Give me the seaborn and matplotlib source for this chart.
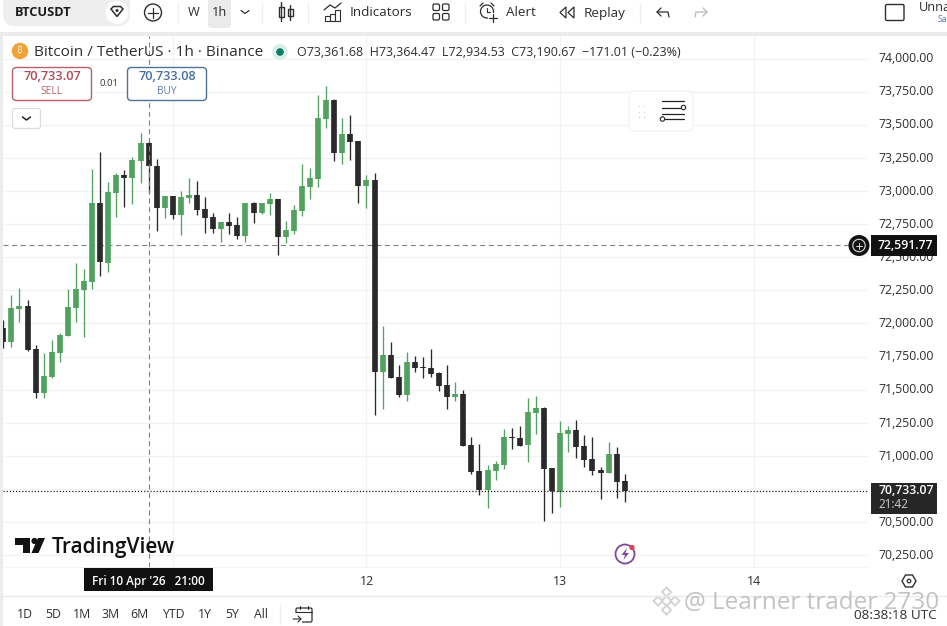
import matplotlib
matplotlib.use("Agg")
import matplotlib.pyplot as plt
from matplotlib.patches import FancyBboxPatch, Circle, Rectangle, Polygon
from matplotlib.transforms import ScaledTranslation
import pandas as pd
import seaborn as sns

# hours counted from 11 Apr 00:00
hours = list(range(-21, 57))
opens = [71963, 71863, 72112, 72132, 71805, 71478, 71598, 71780, 71908, 72119, 72255, 72316, 72907,
         72459, 72987, 73121, 73100, 73229, 73360, 73186, 72874, 72962, 72821, 72950, 72970, 72864,
         72804, 72716, 72766, 72743, 72660, 72909, 72831, 72902, 72940, 72653, 72698, 72849, 73033,
         73093, 73543, 73687, 73289, 73430, 73377, 73040, 73083, 71636, 71762, 71596, 71460, 71709,
         71671, 71664, 71629, 71533, 71445, 71468, 71080, 70884, 70743, 70889, 70932, 71143, 71136,
         71080, 71324, 71362, 70907, 70730, 71166, 71196, 71075, 70977, 70894, 70874, 71015, 70808]
closes = [71863, 72114, 72132, 71800, 71478, 71603, 71785, 71913, 72124, 72263, 72320, 72907, 72461,
          72992, 73121, 73100, 73234, 73360, 73186, 72874, 72962, 72819, 72952, 72970, 72859, 72799,
          72713, 72768, 72736, 72660, 72907, 72834, 72909, 72940, 72655, 72706, 72857, 73038, 73098,
          73551, 73687, 73289, 73430, 73370, 73040, 73083, 71636, 71762, 71591, 71460, 71709, 71664,
          71666, 71621, 71531, 71448, 71468, 71078, 70879, 70743, 70894, 70937, 71143, 71138, 71078,
          71332, 71362, 70904, 70736, 71173, 71196, 71070, 70970, 70889, 70874, 71015, 70806, 70733]
highs = [72026, 72215, 72265, 72177, 71837, 71775, 71875, 71925, 72263, 72459, 72414, 73166, 73292,
         73070, 73138, 73158, 73259, 73440, 73375, 73241, 72965, 72962, 73000, 73100, 73075, 72957,
         72836, 72768, 72836, 72804, 72907, 72914, 72912, 72987, 72940, 72776, 72894, 73204, 73174,
         73724, 73795, 73692, 73553, 73574, 73377, 73118, 73133, 71983, 71858, 71687, 71782, 71755,
         71749, 71807, 71634, 71687, 71558, 71498, 71143, 71090, 70932, 70964, 71204, 71211, 71226,
         71437, 71453, 71367, 70907, 71264, 71226, 71271, 71158, 71143, 70917, 71105, 71068, 70864]
lows = [71817, 71825, 72014, 71795, 71435, 71435, 71586, 71712, 71905, 72014, 71900, 72258, 72358,
        72391, 72806, 72882, 72902, 73058, 72982, 72700, 72799, 72791, 72668, 72907, 72819, 72685,
        72680, 72617, 72675, 72638, 72615, 72761, 72826, 72816, 72517, 72610, 72675, 72814, 72937,
        73033, 73478, 73226, 73201, 73234, 72907, 72874, 71309, 71354, 71591, 71443, 71417, 71634,
        71591, 71598, 71493, 71357, 71417, 71075, 70864, 70703, 70610, 70821, 70904, 71055, 71075,
        70954, 71166, 70509, 70569, 70617, 71030, 70985, 70919, 70856, 70675, 70871, 70685, 70655]

price_ticks = [70250, 70500, 70750, 71000, 71250, 71500, 71750, 72000, 72250, 72500, 72750, 73000,
               73250, 73500, 73750, 74000]
day_hours = [0, 24, 48, 72]
day_labels = ["", "12", "13", "14"]
crosshair_hour = -3
crosshair_price = 72591.77
last_price = 70733.07

GREEN = "#52a25f"
BLACK = "#2a2a2a"
GRID = "#f1f2f5"
TEXT = "#2e2e2e"

sns.set_theme(style="white")
plt.rcParams["font.family"] = ["Open Sans", "DejaVu Sans"]

df = pd.DataFrame({"hour": hours, "open": opens, "close": closes, "high": highs, "low": lows})
df["direction"] = ["up" if c >= o else "down" for o, c in zip(opens, closes)]
wicks = df.melt(id_vars=["hour", "direction"], value_vars=["high", "low"], value_name="price")
bodies = df.melt(id_vars=["hour", "direction"], value_vars=["open", "close"], value_name="price")
colors = {"up": GREEN, "down": BLACK}

W, H = 947, 626
fig = plt.figure(figsize=(W / 100, H / 100), dpi=100, facecolor="white")
ax = fig.add_axes([3 / W, (H - 567) / H, 865 / W, 531 / H], zorder=1)

sns.lineplot(data=wicks, x="hour", y="price", hue="direction", units="hour", estimator=None,
             palette=colors, linewidth=0.95, solid_capstyle="butt", legend=False, ax=ax, zorder=3)
sns.lineplot(data=bodies, x="hour", y="price", hue="direction", units="hour", estimator=None,
             palette=colors, linewidth=4.1, solid_capstyle="butt", legend=False, ax=ax, zorder=4)

ax.set_xlim(-21.04, 86.14)
ax.set_ylim(70161.8, 74170)
ax.yaxis.tick_right()
ax.set_yticks(price_ticks)
ax.set_yticklabels([f"{p:,.2f}" for p in price_ticks], fontsize=8.8, color=TEXT)
ax.set_xticks(day_hours)
ax.set_xticklabels(day_labels, fontsize=8.8, color=TEXT)
ax.tick_params(axis="both", length=0)
ax.tick_params(axis="y", pad=7.5)
ax.tick_params(axis="x", pad=6)
ax.grid(True, color=GRID, linewidth=0.9)
ax.set_axisbelow(True)
ax.set_xlabel("")
ax.set_ylabel("")
sns.despine(ax=ax, left=True, right=True, top=True, bottom=True)

# price labels sit a little above their grid lines
nudge = ScaledTranslation(0, 1.3 / 100, fig.dpi_scale_trans)
for label in ax.get_yticklabels():
    label.set_transform(label.get_transform() + nudge)

ax.axhline(crosshair_price, color="#808080", linewidth=0.8, dashes=(4.5, 3.3), zorder=2)
ax.axvline(crosshair_hour, color="#808080", linewidth=0.8, dashes=(4.5, 3.3), zorder=5)
ax.axhline(last_price, color="#222222", linewidth=0.9, dashes=(1, 1.5), zorder=5)

# everything around the chart is drawn in pixel coordinates on a top layer
ui = fig.add_axes([0, 0, 1, 1], zorder=2)
ui.set_xlim(0, W)
ui.set_ylim(H, 0)
ui.axis("off")
ui.patch.set_alpha(0)


def txt(x, y, s, size=8.8, color=TEXT, ha="left", **kw):
    ui.text(x, y, s, fontsize=size, color=color, ha=ha, va="center", **kw)


def box(x0, y0, x1, y1, r=3, fc="white", ec="none", lw=1.0, **kw):
    ui.add_patch(FancyBboxPatch((x0, y0), x1 - x0, y1 - y0, boxstyle=f"round,pad=0,rounding_size={r}",
                                fc=fc, ec=ec, lw=lw, **kw))


def seg(xs, ys, color=TEXT, lw=1.0, **kw):
    ui.plot(xs, ys, color=color, lw=lw, solid_capstyle="round", **kw)


# frame strips
ui.add_patch(Rectangle((0, 32), W, 3.5, fc="#ececec", ec="none"))
ui.add_patch(Rectangle((0, 32), 2.5, H, fc="#ececec", ec="none"))
seg([2, W], [595.5, 595.5], color="#e9e9e9", lw=0.9)
seg([2, 868], [567, 567], color="#f4f4f4", lw=0.7)

# top toolbar
box(3, -8, 130, 26, r=12, fc="#eeeeee")
ui.add_patch(Circle((117, 12.5), 11.5, fc="white", ec="none"))
ui.add_patch(Polygon([(111, 9), (113.5, 6.5), (120.5, 6.5), (123, 9), (117, 16.5)], fc="white", ec=TEXT, lw=1.1))
ui.add_patch(Circle((117, 10.5), 1.5, fc=TEXT, ec="none"))
txt(15, 13, "BTCUSDT", size=9.2, fontweight="bold", color="#1c1c1c")
ui.add_patch(Circle((153, 12.5), 8.5, fc="white", ec=TEXT, lw=1.0))
seg([148, 158], [12.5, 12.5], lw=0.9)
seg([153, 153], [7.5, 17.5], lw=0.9)
for sx in [178, 262, 308, 465, 640]:
    seg([sx, sx], [3, 23], color="#eeeeee", lw=0.9)
txt(194, 13, "W", ha="center", size=9.2)
box(208, -8, 231, 28, r=4, fc="#ebebeb")
txt(219.5, 13, "1h", ha="center", size=9.2)
seg([241, 245, 249], [10.5, 13.5, 10.5], lw=0.9)
# candle icon
for cx, y0, y1, top, bot in [(281, 7, 17, 2, 21), (290, 8.5, 16, 5, 20)]:
    seg([cx, cx], [top, bot], lw=1.0)
    ui.add_patch(Rectangle((cx - 2.5, y0), 5, y1 - y0, fc="white", ec=TEXT, lw=1.0))
# indicators icon
for bx, by in [(325, 16), (330, 14), (335, 10)]:
    ui.add_patch(Rectangle((bx, by), 4.5, 21 - by, fc="white", ec=TEXT, lw=0.8))
seg([324, 330, 335, 341], [10, 5, 8, 3], lw=0.9)
txt(350, 13, "Indicators", size=9.7)
for gx in [433, 442.5]:
    for gy in [4, 13.5]:
        box(gx, gy, gx + 6.5, gy + 6.5, r=1.5, fc="white", ec=TEXT, lw=0.9)
# alert icon
ui.add_patch(Circle((487, 11.5), 6.5, fc="white", ec=TEXT, lw=0.9))
seg([487, 487, 490], [8, 11.5, 11.5], lw=0.8)
seg([480, 483], [6, 3], lw=0.9)
seg([491, 494], [3, 6], lw=0.9)
ui.add_patch(Rectangle((488, 13), 10, 9, fc="white", ec="none"))
seg([489, 497], [18, 18], lw=0.9)
seg([493, 493], [14, 22], lw=0.9)
txt(506, 13, "Alert", size=9.7)
# replay icon
ui.add_patch(Polygon([(566, 7), (560, 12.5), (566, 18)], closed=True, fc="white", ec=TEXT, lw=0.9))
ui.add_patch(Polygon([(574, 7), (568, 12.5), (574, 18)], closed=True, fc="white", ec=TEXT, lw=0.9))
txt(584, 13, "Replay", size=9.7)
# undo and redo
seg([657, 668, 669], [12, 12, 17], lw=0.9)
seg([661, 657, 661], [8, 12, 16], lw=0.9)
seg([707, 696, 695], [12, 12, 17], color="#b9b9b9", lw=0.9)
seg([703, 707, 703], [8, 12, 16], color="#b9b9b9", lw=0.9)
box(885.5, 4.5, 904, 20.5, r=1.5, fc="white", ec=TEXT, lw=1.0)
txt(919, 7.5, "Unna", size=9.2)
txt(938, 20, "Sa", size=6.2, color="#4a78b5")

# legend line
ui.add_patch(Circle((20, 51), 8.2, fc="#f0a236", ec="none"))
ui.text(20, 51, "₿", fontsize=7, color="#f8e0b8", ha="center", va="center",
        family=["Noto Sans", "Roboto", "Inter", "Lato", "DejaVu Sans"])
txt(34, 52, "Bitcoin / TetherUS · 1h · Binance", size=11.1)
ui.add_patch(Circle((280, 52), 8, fc="#d8efe9", ec="none"))
ui.add_patch(Circle((280, 52), 3.8, fc="#0f7a63", ec="none"))
txt(297, 52, "O73,361.68  H73,364.47  L72,934.53  C73,190.67  −171.01 (−0.23%)", size=9.03)

# order buttons
box(12.5, 67.5, 91.5, 100.5, r=4, fc="white", ec="#b8606a", lw=1.0)
txt(52, 76.5, "70,733.07", size=9.2, color="#ad4a55", ha="center", fontweight="semibold")
txt(52, 91, "SELL", size=7.4, color="#b4636c", ha="center")
txt(109, 84, "0.01", size=6.8, color="#333333", ha="center")
box(127.5, 67.5, 206.5, 100.5, r=4, fc="white", ec="#4f7299", lw=1.0)
txt(167, 76.5, "70,733.08", size=9.2, color="#456f9f", ha="center", fontweight="semibold")
txt(167, 91, "BUY", size=7.4, color="#5f80a6", ha="center")
box(12.5, 108.5, 40.5, 128.5, r=2.5, fc="white", ec="#dddddd", lw=0.9)
seg([22.5, 26.5, 30.5], [117, 120, 117], color="#222222", lw=1.1)

# floating widget
box(628, 90, 694, 132, r=7, fc="#f6f6f6", ec="none")
box(630, 92, 692, 130, r=5, fc="white", ec="none")
for dx in [638.5, 644]:
    for dy in [106, 111.5, 117]:
        ui.add_patch(Rectangle((dx, dy), 1.2, 1.2, fc="#c9c9c9", ec="none"))
seg([662, 684], [101, 101], color="#222222", lw=0.9)
seg([662, 680], [107.5, 107.5], color="#222222", lw=0.9)
seg([662, 684], [113.5, 113.5], color="#222222", lw=0.9)
seg([665, 684], [119, 119], color="#222222", lw=0.9)
ui.add_patch(Circle((683.5, 107.5), 2.2, fc="white", ec="#222222", lw=0.8))
ui.add_patch(Circle((662.5, 119), 2.2, fc="white", ec="#222222", lw=0.8))

# crosshair and last price labels
ui.add_patch(Circle((859, 245.5), 10.5, fc="#111111", ec="none"))
ui.add_patch(Circle((859, 245.5), 6.2, fc="#111111", ec="#dddddd", lw=0.8))
seg([856, 862], [245.5, 245.5], color="#dddddd", lw=0.7)
seg([859, 859], [242.5, 248.5], color="#dddddd", lw=0.7)
ui.add_patch(Rectangle((871, 235), 66, 21, fc="#111111", ec="none"))
txt(878, 245.5, "72,591.77", size=8.8, color="white", fontweight="semibold")
ui.add_patch(Rectangle((871, 483), 66, 31, fc="#262626", ec="none"))
txt(878.5, 491, "70,733.07", size=8.8, color="white", fontweight="semibold")
txt(878.5, 505, "21:42", size=8.4, color="#cfcfcf")

# TradingView mark
ui.add_patch(Polygon([(15, 538), (30, 538), (30, 553), (22.5, 553), (22.5, 544.5), (15, 544.5)], fc="#111111", ec="none"))
ui.add_patch(Circle((34.5, 541), 3.1, fc="#111111", ec="none"))
ui.add_patch(Polygon([(38, 538), (45, 538), (38.5, 553), (31.5, 553)], fc="#111111", ec="none"))
ui.text(52, 547, "TradingView", fontsize=15, color="#111111", ha="left", va="center", fontweight="semibold")

# time axis extras
ui.add_patch(Rectangle((84, 567), 129, 24, fc="#111111", ec="none"))
txt(148.5, 581, "Fri 10 Apr '26   21:00", size=8.5, color="white", ha="center", fontweight="semibold")
ui.add_patch(Polygon([(902, 581), (905.5, 575), (912.5, 575), (916, 581), (912.5, 587), (905.5, 587)], fc="white", ec=TEXT, lw=1.0))
ui.add_patch(Circle((909, 581), 1.8, fc="white", ec=TEXT, lw=0.9))

# flash icon
ui.add_patch(Circle((625, 554), 9.5, fc="white", ec="#7d4a9c", lw=1.3))
ui.add_patch(Polygon([(627, 548), (621.5, 555), (625, 555), (623.5, 560), (629, 553), (625.5, 553)], fc="#7d4a9c", ec="none"))
ui.add_patch(Circle((632, 547.5), 2.7, fc="#d34a50", ec="none"))

# range buttons
for rx, label in zip([25, 53, 82, 111, 139, 173, 205, 232, 261],
                     ["1D", "5D", "1M", "3M", "6M", "YTD", "1Y", "5Y", "All"]):
    txt(rx, 615, label, size=8.8, ha="center")
seg([280, 280], [605, 624], color="#eeeeee", lw=0.9)
box(296, 608, 312, 622, r=1.5, fc="white", ec=TEXT, lw=0.9)
ui.add_patch(Rectangle((292, 613), 10, 10, fc="white", ec="none"))
seg([296, 312], [611.5, 611.5], lw=0.8)
seg([300, 300], [605.5, 609], lw=0.8)
seg([308, 308], [605.5, 609], lw=0.8)
seg([293, 301, 298], [619, 619, 616], lw=0.8)
seg([301, 298], [619, 622], lw=0.8)
txt(937, 615.5, "08:38:18 UTC", size=9.7, ha="right")

# watermark
for dx, dy, r in [(666.5, 601, 5), (666.5, 592, 4.5), (666.5, 610, 4.5), (658, 601, 4.5), (675, 601, 4.5)]:
    ui.add_patch(Polygon([(dx, dy - r), (dx + r, dy), (dx, dy + r), (dx - r, dy)], fc="white", ec="#d4d4d4", lw=1.4))
txt(684, 603, "@ Learner trader 2730", size=17.5, color="#b4b4b4", alpha=0.8)

fig.savefig("out.png", dpi=100)
